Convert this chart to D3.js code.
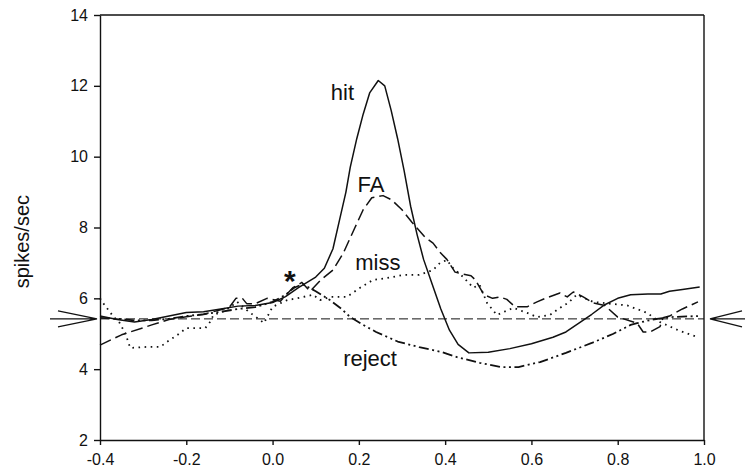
<!DOCTYPE html>
<html><head><meta charset="utf-8">
<script src="https://cdn.jsdelivr.net/npm/d3@7"></script>
<style>body{margin:0;background:#fff}svg{display:block}text{font-family:"Liberation Sans",Arial,sans-serif;fill:#111}</style>
</head><body>
<svg id="c" width="745" height="474"></svg>
<script>
const xTicks = [-0.4, -0.2, 0.0, 0.2, 0.4, 0.6, 0.8, 1.0];
const yTicks = [2, 4, 6, 8, 10, 12, 14];
const baseline = 5.42;

const hitT = [-0.40,-0.36,-0.32,-0.28,-0.24,-0.20,-0.16,-0.12,-0.08,-0.04,0.00,0.03,0.06,0.08,0.10,0.12,0.14,0.155,0.17,0.18,0.195,0.21,0.225,0.245,0.26,0.275,0.29,0.305,0.32,0.335,0.35,0.37,0.39,0.41,0.43,0.455,0.50,0.55,0.60,0.65,0.68,0.71,0.74,0.77,0.80,0.83,0.87,0.90,0.92,0.95,0.99];
const hitV = [5.5,5.4,5.33,5.4,5.5,5.6,5.62,5.7,5.78,5.8,5.88,6.05,6.3,6.45,6.6,6.85,7.4,8.2,9.0,9.7,10.5,11.2,11.8,12.15,12.0,11.3,10.5,9.6,8.6,7.8,7.1,6.4,5.7,5.1,4.7,4.46,4.48,4.58,4.72,4.9,5.05,5.3,5.55,5.82,6.0,6.1,6.12,6.12,6.2,6.25,6.32];

const faT = [-0.40,-0.35,-0.28,-0.24,-0.20,-0.16,-0.12,-0.10,-0.085,-0.07,-0.06,-0.04,-0.013,0.018,0.047,0.068,0.087,0.11,0.14,0.164,0.191,0.21,0.23,0.256,0.276,0.30,0.323,0.353,0.372,0.388,0.404,0.423,0.442,0.46,0.47,0.49,0.51,0.527,0.543,0.562,0.59,0.613,0.632,0.666,0.683,0.697,0.72,0.743,0.77,0.80,0.845,0.859,0.875,0.898,0.905,0.92,0.95,0.986];
const faV = [4.68,4.97,5.25,5.4,5.48,5.55,5.68,5.75,6.0,6.0,5.85,5.85,6.0,5.92,6.3,6.45,6.2,6.5,6.8,7.28,8.0,8.5,8.84,8.9,8.78,8.5,8.15,7.73,7.56,7.3,7.1,6.74,6.68,6.64,6.52,6.1,6.0,6.04,5.97,5.76,5.76,5.9,6.0,6.15,6.04,6.18,6.04,5.87,5.8,5.47,5.3,5.05,5.05,5.2,5.45,5.5,5.7,5.9];

const missT = [-0.40,-0.393,-0.37,-0.354,-0.34,-0.33,-0.29,-0.26,-0.245,-0.22,-0.20,-0.175,-0.156,-0.145,-0.137,-0.11,-0.082,-0.06,-0.045,-0.029,-0.02,0.0,0.034,0.056,0.094,0.11,0.133,0.172,0.203,0.233,0.264,0.303,0.34,0.372,0.388,0.404,0.418,0.442,0.465,0.48,0.497,0.52,0.535,0.558,0.59,0.613,0.643,0.666,0.685,0.705,0.743,0.78,0.822,0.868,0.898,0.94,0.986];
const missV = [6.0,5.87,5.5,5.3,4.97,4.6,4.63,4.63,4.77,4.97,5.16,5.16,5.16,5.33,5.53,5.65,5.9,5.67,5.53,5.39,5.3,5.76,5.95,6.0,6.1,5.95,6.04,6.04,6.3,6.52,6.57,6.66,6.66,6.8,7.0,7.08,6.86,6.6,6.3,6.38,5.87,5.53,5.61,5.73,5.59,5.47,5.53,5.73,5.87,6.1,5.9,5.85,5.8,5.59,5.33,5.1,4.9];

const rejT = [-0.40,-0.36,-0.32,-0.28,-0.24,-0.20,-0.16,-0.12,-0.08,-0.04,0.00,0.03,0.05,0.07,0.10,0.133,0.16,0.18,0.21,0.24,0.29,0.34,0.39,0.43,0.48,0.53,0.57,0.62,0.68,0.74,0.79,0.83,0.845,0.88,0.92,0.986];
const rejV = [5.45,5.42,5.38,5.38,5.42,5.5,5.55,5.62,5.7,5.75,5.9,6.1,6.3,6.4,6.2,5.95,5.7,5.47,5.25,5.05,4.78,4.62,4.49,4.33,4.18,4.06,4.06,4.2,4.46,4.74,5.0,5.25,5.3,5.4,5.47,5.5];

const labels = [
  {text:"hit", t:0.162, v:11.6},
  {text:"FA", t:0.228, v:9.0},
  {text:"miss", t:0.244, v:6.8},
  {text:"reject", t:0.226, v:4.09}
];

const svg = d3.select("#c");
const m = {l:100, r:704, t:15, b:440};
const x = d3.scaleLinear().domain([-0.4, 1.0]).range([m.l, m.r]);
const y = d3.scaleLinear().domain([2, 14]).range([m.b, m.t]);

// frame
svg.append("line").attr("x1",m.l).attr("x2",m.r).attr("y1",m.t).attr("y2",m.t).attr("stroke","#111").attr("stroke-width",1.4);
svg.append("line").attr("x1",m.r).attr("x2",m.r).attr("y1",m.t).attr("y2",m.b).attr("stroke","#111").attr("stroke-width",1.4);

const xa = svg.append("g").attr("transform",`translate(0,${m.b})`)
  .call(d3.axisBottom(x).tickValues(xTicks).tickFormat(d3.format(".1f")).tickSize(5).tickSizeOuter(0).tickPadding(9));
const ya = svg.append("g").attr("transform",`translate(${m.l},0)`)
  .call(d3.axisLeft(y).tickValues(yTicks).tickFormat(d3.format("d")).tickSize(6).tickSizeOuter(0).tickPadding(6));
[xa, ya].forEach(g => {
  g.selectAll("path,line").attr("stroke","#111").attr("stroke-width",1.4);
  g.selectAll("text").attr("font-size",16).attr("fill","#111").style("font-family","'Liberation Sans',Arial,sans-serif");
});
xa.selectAll("text").text(d => d3.format(".1f")(d).replace("−","-"));

svg.append("text").attr("transform",`translate(29,${y(7.6)}) rotate(-90)`).attr("text-anchor","middle")
  .attr("font-size",20).text("spikes/sec");

// baseline dashed
svg.append("line").attr("x1",m.l).attr("x2",m.r).attr("y1",y(baseline)).attr("y2",y(baseline))
  .attr("stroke","#111").attr("stroke-width",1).attr("stroke-dasharray","9,4");

// arrows
const by = y(baseline);
const arrow = svg.append("g").attr("stroke","#111").attr("stroke-width",1.2).attr("fill","none");
arrow.append("path").attr("d",`M50,${by}H${m.l-3} M58,${by-8}L${m.l-3},${by} L58,${by+8}`);
arrow.append("path").attr("d",`M745,${by}H${m.r+6} M742,${by-8}L${m.r+6},${by} L742,${by+8}`);

const line = d3.line().x(d => x(d[0])).y(d => y(d[1])).curve(d3.curveLinear);
const series = [
  {t:hitT, v:hitV, dash:null, w:1.5},
  {t:faT, v:faV, dash:"12,5", w:1.5},
  {t:missT, v:missV, dash:"1.6,4.5", w:1.8},
  {t:rejT, v:rejV, dash:"10,3.5,2,3.5,2,3.5", w:1.8}
];
series.forEach(s => {
  svg.append("path").datum(s.t.map((t,i)=>[t,s.v[i]])).attr("d",line)
    .attr("fill","none").attr("stroke","#111").attr("stroke-width",s.w)
    .attr("stroke-dasharray",s.dash).attr("stroke-linejoin","round");
});

labels.forEach(l => {
  svg.append("text").attr("x",x(l.t)).attr("y",y(l.v)).attr("text-anchor","middle")
    .attr("font-size",22).text(l.text);
});
svg.append("text").attr("x",x(0.04)).attr("y",y(6.2)).attr("text-anchor","middle")
  .attr("font-size",30).attr("font-weight","bold").text("*");
</script>
</body></html>
